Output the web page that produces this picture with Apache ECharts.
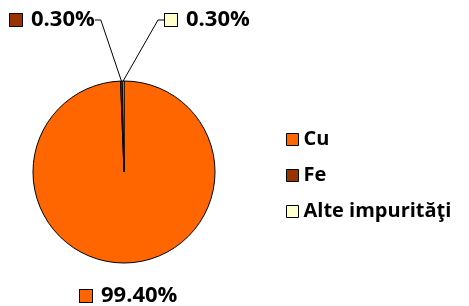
<!DOCTYPE html>
<html>
<head>
<meta charset="utf-8">
<script src="https://cdn.jsdelivr.net/npm/echarts@6/dist/echarts.min.js"></script>
<style>
  html, body { margin: 0; padding: 0; background: #fff; }
  #chart { width: 469px; height: 306px; }
</style>
</head>
<body>
<div id="chart"></div>
<script>
  var categories = ['Cu', 'Fe', 'Alte impurităţi'];
  var values = [99.4, 0.3, 0.3];
  var colors = ['#FF6600', '#993300', '#FFFFCC'];

  // where each value label sits (left edge, middle line)
  var labelSpots = [[80, 296], [10, 20], [165, 20]];

  var font = '"Open Sans", sans-serif';

  var data = categories.map(function(name, i) {
    return {
      name: name,
      value: values[i],
      itemStyle: { color: colors[i] },
      labelLine: { show: i !== 0 }
    };
  });

  var chart = echarts.init(document.getElementById('chart'));
  chart.setOption({
    animation: false,
    color: colors,
    legend: {
      orient: 'vertical',
      left: 281,
      top: 124,
      itemWidth: 12,
      itemHeight: 12,
      itemGap: 15,
      icon: 'rect',
      itemStyle: { borderColor: '#000', borderWidth: 1 },
      textStyle: { fontFamily: font, fontWeight: 'bold', fontSize: 20, lineHeight: 21, color: '#000' },
      data: categories
    },
    series: [{
      type: 'pie',
      center: [124, 172],
      radius: 91,
      startAngle: 90,
      clockwise: true,
      avoidLabelOverlap: false,
      itemStyle: { borderColor: '#000', borderWidth: 1 },
      label: {
        show: true,
        formatter: function(p) {
          return '{sq' + p.dataIndex + '|}{v|' + p.value.toFixed(2) + '%}';
        },
        rich: {
          sq0: { width: 12, height: 12, backgroundColor: colors[0], borderColor: '#000', borderWidth: 1 },
          sq1: { width: 12, height: 12, backgroundColor: colors[1], borderColor: '#000', borderWidth: 1 },
          sq2: { width: 12, height: 12, backgroundColor: colors[2], borderColor: '#000', borderWidth: 1 },
          v: { fontFamily: font, fontWeight: 'bold', fontSize: 22, color: '#000', padding: [0, 0, 0, 9] }
        }
      },
      labelLine: {
        show: true,
        length: 20,
        length2: 6,
        lineStyle: { color: '#000', width: 1 }
      },
      labelLayout: function(p) {
        var s = labelSpots[p.dataIndex];
        return { x: s[0], y: s[1], align: 'left', verticalAlign: 'middle' };
      },
      data: data
    }]
  });
</script>
</body>
</html>
